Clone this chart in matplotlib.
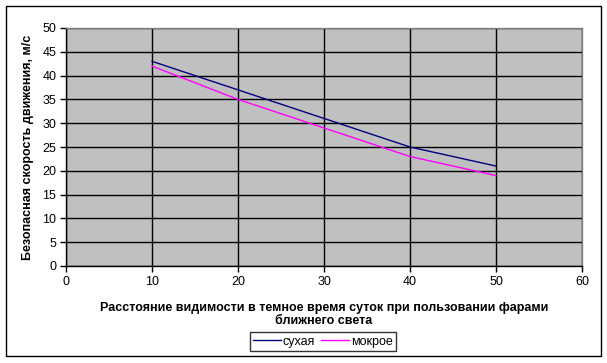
import matplotlib
matplotlib.use("Agg")
from matplotlib import pyplot as plt
from matplotlib.patches import Rectangle

plt.rcParams['font.family'] = ['Liberation Sans', 'DejaVu Sans']

distance = [10, 20, 30, 40, 50]
speed_dry = [43, 37, 31, 25, 21]
speed_wet = [42, 35, 29, 23, 19]
series_names = ['сухая', 'мокрое']

x_ticks = [0, 10, 20, 30, 40, 50, 60]
y_ticks = [0, 5, 10, 15, 20, 25, 30, 35, 40, 45, 50]

W, H = 607, 363
fig = plt.figure(figsize=(W / 100., H / 100.), dpi=100)

# outer chart frame
fig.patches.append(Rectangle((6. / W, 1 - 356. / H), 595. / W, 350. / H,
                             transform=fig.transFigure, fill=False,
                             edgecolor='black', linewidth=1.0))

ax = fig.add_axes([66. / W, 1 - 266. / H, 516. / W, 238. / H])
ax.set_facecolor('#C0C0C0')
for side in ax.spines.values():
    side.set_color('#808080')
    side.set_linewidth(1.0)
ax.spines['left'].set_color('black')
ax.spines['bottom'].set_color('black')

ax.plot(distance, speed_dry, color='#000080', linewidth=1.0, label=series_names[0])
ax.plot(distance, speed_wet, color='#FF00FF', linewidth=1.0, label=series_names[1])

ax.set_xlim(0, 60)
ax.set_ylim(0, 50)
ax.set_xticks(x_ticks)
ax.set_yticks(y_ticks)
ax.grid(True, color='black', linewidth=1.0)
ax.set_axisbelow(True)
ax.tick_params(labelsize=9, length=4, width=1, direction='out', pad=3)

ax.set_ylabel('Безопасная скорость движения, м/с', fontsize=9, fontweight='bold',
              labelpad=6)
ax.set_xlabel('Расстояние видимости в темное время суток при пользовании фарами\n'
              'ближнего света', fontsize=9, fontweight='bold', labelpad=10,
              linespacing=1.2)

leg = fig.legend(loc='center', bbox_to_anchor=(323. / W, 1 - 341.5 / H), ncol=2,
                 fontsize=9, frameon=True, fancybox=False, edgecolor='black',
                 handlelength=2.2, handletextpad=0.15, columnspacing=0.5,
                 borderpad=0.3, borderaxespad=0)
leg.get_frame().set_linewidth(1.0)

fig.savefig('out.png', dpi=100)
